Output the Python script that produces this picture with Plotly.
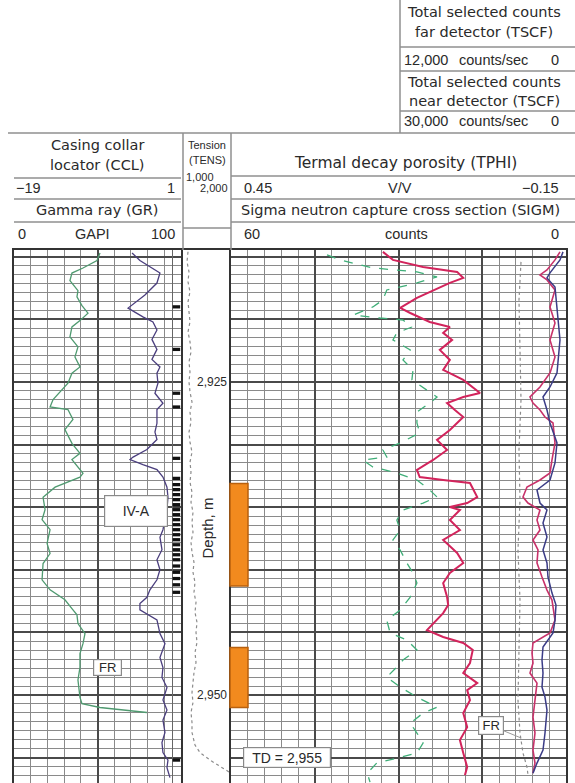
import plotly.graph_objects as go

# ---------------- data ----------------
depth_top, depth_bot = 2914.46, 2957.03

gr_depth = [2914.7, 2915.3, 2915.9, 2916.3, 2916.9, 2917.7, 2918.2, 2918.9, 2919.5, 2920.1,
            2920.6, 2921.4, 2922.2, 2923.0, 2923.8, 2924.3, 2925.1, 2926.4, 2927.0, 2927.2,
            2928.0, 2928.8, 2929.9, 2930.7, 2931.2, 2932.3, 2932.6, 2933.4, 2934.2, 2935.2,
            2936.0, 2936.8, 2937.9, 2938.7, 2939.5, 2940.8, 2941.6, 2942.4, 2943.1, 2943.6,
            2944.3, 2945.1, 2945.9, 2946.7, 2947.8, 2948.8, 2950.2, 2950.7, 2951.0, 2951.4]
gr_gapi = [51.5, 49.7, 41.3, 34.7, 33.5, 38.3, 37.7, 40.7, 44.3, 39.5,
           34.7, 33.5, 38.3, 36.5, 39.5, 34.7, 32.3, 23.4, 21.6, 32.3,
           35.3, 30.5, 34.7, 39.5, 34.7, 41.3, 39.5, 24.6, 17.4, 18.6,
           16.8, 21.6, 19.8, 21.6, 17.4, 16.8, 21.6, 30.5, 34.7, 37.7,
           38.3, 42.5, 41.3, 39.5, 39.5, 38.3, 39.5, 40.7, 51.5, 79.6]

gr2_depth = [2914.7, 2915.3, 2916.3, 2917.1, 2918.05, 2919.1, 2919.8, 2920.2, 2920.85, 2921.6,
             2922.4, 2923.2, 2923.8, 2924.3, 2925.1, 2925.9, 2926.7, 2927.2, 2928.3, 2929.0,
             2929.6, 2930.4, 2931.0, 2931.2, 2931.6, 2932.0, 2932.6, 2933.4, 2934.2, 2935.2,
             2936.0, 2936.8, 2937.4, 2938.4, 2939.2, 2940.0, 2940.8, 2941.6, 2942.2, 2942.7,
             2943.2, 2943.6, 2944.0, 2945.1, 2945.9, 2947.0, 2947.8, 2948.6, 2949.4, 2950.4,
             2951.2, 2952.0, 2953.0, 2953.8, 2954.6, 2955.2, 2955.8, 2956.6]
gr2_gapi = [70.7, 75.4, 87.4, 85.6, 78.4, 68.3, 77.2, 83.2, 85.6, 82.6,
            85.6, 82.6, 87.4, 85.6, 86.2, 84.4, 89.2, 85.6, 85.6, 84.4,
            85.6, 79.6, 71.3, 69.5, 77.2, 85.6, 89.2, 91.6, 92.2, 91.6,
            90.4, 89.2, 87.4, 88.6, 85.6, 87.4, 85.6, 81.4, 79.6, 75.4,
            75.4, 80.2, 85.6, 87.4, 90.4, 87.4, 89.2, 88.6, 91.6, 89.2,
            91.6, 89.2, 90.4, 88.6, 89.2, 92.2, 91.6, 93.4]

ccl_depth = [2919.0, 2922.4, 2925.9, 2927.0, 2931.1, 2932.7, 2933.2, 2933.6, 2934.0, 2934.4,
             2934.8, 2935.2, 2935.6, 2936.0, 2936.4, 2936.8, 2937.2, 2937.6, 2938.0, 2938.4,
             2938.8, 2939.2, 2939.7, 2940.2, 2940.7, 2941.2, 2941.8, 2955.2]
ccl_defl = [0.9] * len(ccl_depth)

tens_depth = [2914.6, 2915.4, 2916.2, 2917.0, 2917.8, 2918.6, 2919.4, 2920.2, 2921.0, 2921.8,
              2922.6, 2923.4, 2924.2, 2925.0, 2925.8, 2926.6, 2927.4, 2928.2, 2929.0, 2929.8,
              2930.6, 2931.4, 2932.2, 2933.0, 2933.8, 2934.6, 2935.4, 2936.2, 2937.0, 2937.8,
              2938.6, 2939.4, 2940.2, 2941.0, 2941.8, 2942.6, 2943.4, 2944.2, 2945.0, 2945.8,
              2946.6, 2947.4, 2948.2, 2949.0, 2949.8, 2950.6, 2951.4, 2952.2, 2953.0, 2954.0,
              2954.6, 2955.2, 2955.8, 2956.2]
tens_lbf = [1140, 1120, 1160, 1140, 1180, 1140, 1160, 1180, 1140, 1180,
            1200, 1160, 1180, 1160, 1180, 1220, 1180, 1200, 1160, 1180,
            1220, 1180, 1200, 1180, 1220, 1200, 1240, 1220, 1240, 1200,
            1220, 1260, 1240, 1280, 1260, 1300, 1280, 1320, 1300, 1320,
            1280, 1300, 1260, 1240, 1220, 1240, 1200, 1220, 1220, 1280,
            1380, 1580, 1820, 1980]

tphi_depth = [2914.85, 2915.25, 2915.89, 2916.21, 2916.61, 2917.09, 2917.65, 2918.45, 2919.01, 2919.65,
              2919.89, 2920.05, 2920.61, 2921.08, 2921.64, 2922.44, 2923.24, 2924.04, 2924.84, 2925.64,
              2926.20, 2926.68, 2927.40, 2928.28, 2929.07, 2929.87, 2930.43, 2930.99, 2931.23, 2931.79,
              2932.27, 2932.83, 2933.63, 2934.19, 2934.67, 2935.23, 2936.03, 2936.83, 2937.62, 2938.42,
              2939.46, 2940.26, 2941.06, 2942.18, 2943.22, 2944.02, 2945.05, 2945.61, 2946.41, 2947.21,
              2947.77, 2948.57, 2949.37, 2950.17, 2950.97, 2951.45, 2952.25, 2953.04, 2953.84, 2954.64,
              2955.44, 2956.24, 2956.96]
tphi_vv = [0.278, 0.255, 0.196, 0.117, 0.081, 0.117, 0.171, 0.178, 0.196, 0.231,
           0.183, 0.142, 0.126, 0.153, 0.160, 0.129, 0.142, 0.124, 0.126, 0.099,
           0.081, 0.094, 0.117, 0.117, 0.112, 0.147, 0.178, 0.171, 0.214, 0.196,
           0.153, 0.117, 0.094, 0.081, 0.106, 0.142, 0.153, 0.147, 0.160, 0.147,
           0.135, 0.124, 0.117, 0.129, 0.147, 0.171, 0.165, 0.135, 0.117, 0.142,
           0.153, 0.171, 0.147, 0.117, 0.081, 0.106, 0.129, 0.117, 0.106, 0.117,
           0.189, 0.206, 0.201]

sigm_depth = [2914.61, 2915.25, 2915.81, 2916.21, 2916.69, 2917.09, 2918.29, 2919.09, 2919.49, 2920.21,
              2920.61, 2921.08, 2921.64, 2922.44, 2923.24, 2924.04, 2924.84, 2925.88, 2926.20, 2926.68,
              2927.24, 2927.80, 2928.84, 2929.63, 2930.43, 2931.23, 2932.03, 2932.59, 2932.83, 2933.07,
              2934.19, 2934.67, 2934.99, 2935.23, 2936.03, 2936.83, 2937.62, 2938.66, 2939.46, 2940.26,
              2941.06, 2942.18, 2942.82, 2943.46, 2944.82, 2945.37, 2945.85, 2946.41, 2947.45, 2948.25,
              2949.05, 2949.61, 2950.41, 2951.45, 2952.57, 2953.60, 2954.64, 2955.76, 2956.40]
sigm_cu = [32.8, 31.0, 25.6, 19.5, 18.4, 20.8, 26.7, 29.7, 27.9, 24.4,
           20.8, 22.0, 20.4, 22.6, 20.8, 22.0, 18.4, 15.4, 18.4, 21.3,
           19.9, 18.4, 20.8, 23.1, 21.3, 23.8, 26.7, 26.2, 22.0, 17.2,
           15.9, 17.7, 20.8, 19.0, 20.8, 19.0, 22.0, 19.5, 18.4, 20.8,
           22.0, 21.3, 21.1, 22.0, 24.9, 22.0, 18.4, 16.7, 17.2, 18.4,
           15.9, 17.7, 17.2, 18.4, 17.7, 19.0, 18.4, 17.7, 18.1]

tscf_depth = [2914.61, 2915.25, 2916.05, 2916.45, 2916.85, 2917.65, 2919.01, 2920.29, 2921.64, 2923.00,
              2924.28, 2925.40, 2926.20, 2926.68, 2927.24, 2927.80, 2928.28, 2929.87, 2931.23, 2932.27,
              2932.83, 2933.39, 2934.19, 2934.67, 2935.23, 2936.03, 2936.83, 2937.62, 2938.42, 2939.46,
              2940.58, 2941.62, 2942.42, 2944.02, 2945.05, 2945.85, 2946.65, 2947.45, 2948.25, 2949.05,
              2950.41, 2951.77, 2953.04, 2954.40, 2955.44, 2956.24]
tscf_cps = [215, 394, 681, 932, 681, 394, 573, 394, 573, 394,
            573, 932, 1290, 1182, 932, 753, 466, 394, 502, 573,
            932, 1397, 1541, 1362, 932, 1039, 932, 1182, 1003, 1039,
            860, 681, 502, 394, 573, 1182, 1218, 1182, 1290, 1039,
            1111, 1182, 1111, 1182, 1111, 1182]

tscn_depth = [2914.61, 2915.25, 2916.29, 2916.69, 2917.41, 2919.01, 2921.64, 2924.28, 2925.40, 2926.20,
              2927.24, 2928.28, 2929.87, 2931.47, 2932.83, 2933.63, 2934.67, 2935.23, 2936.27, 2937.38,
              2938.42, 2939.46, 2940.58, 2941.86, 2942.82, 2944.02, 2945.05, 2946.17, 2947.21, 2948.25,
              2949.37, 2950.17, 2951.21, 2953.04, 2954.40, 2955.44, 2956.24]
tscn_cps = [269, 538, 1434, 1702, 986, 807, 538, 807, 1434, 2060,
            1702, 1434, 807, 986, 1434, 2598, 2329, 1702, 2060, 1702,
            2060, 1702, 1613, 1254, 896, 986, 1165, 2060, 2150, 2060,
            2150, 1881, 1702, 1881, 2060, 2598, 2956]

ref_depth = [2915.41, 2918.45, 2922.44, 2926.44, 2930.43, 2934.43, 2938.42, 2942.42, 2946.41, 2950.41,
             2953.04, 2954.64, 2955.76, 2956.40]
ref_cps = [1612, 1684, 1648, 1612, 1684, 1648, 1720, 1648, 1684, 1720,
           1648, 1541, 1397, 1361]

perf_top = [2933.1, 2946.2]
perf_bot = [2941.3, 2951.0]

depth_label_vals = [2925, 2950]
depth_label_text = ["2,925", "2,950"]
td_depth = 2955

# ---------------- layout helpers ----------------
W, H = 575, 783
FONT = "Liberation Sans, Arial, sans-serif"
HFONT = "DejaVu Sans, sans-serif"
TXT = "#2a2a2a"


def px(x):
    return x / W


def py(y):
    return 1 - y / H


T1 = [px(14), px(181)]
TT = [px(181), px(231)]
T3 = [px(231), px(566)]
YD = [0, py(250)]

fig = go.Figure()

# track 1
fig.add_trace(go.Scatter(x=gr_gapi, y=gr_depth, xaxis="x", yaxis="y", mode="lines",
                         line=dict(color="#4f9a70", width=1.3)))
fig.add_trace(go.Scatter(x=gr2_gapi, y=gr2_depth, xaxis="x", yaxis="y", mode="lines",
                         line=dict(color="#4b3f7e", width=1.3)))
fig.add_trace(go.Bar(x=ccl_defl, y=ccl_depth, base=0, orientation="h", width=0.26,
                     xaxis="x2", yaxis="y", marker=dict(color="#111111", line=dict(width=0))))
# tension
fig.add_trace(go.Scatter(x=tens_lbf, y=tens_depth, xaxis="x3", yaxis="y3", mode="lines",
                         line=dict(color="#8c8c8c", width=1.2, dash="dot")))
# track 3
fig.add_trace(go.Scatter(x=tphi_vv, y=tphi_depth, xaxis="x4", yaxis="y2", mode="lines",
                         line=dict(color="#3fae78", width=1.3, dash="dash")))
fig.add_trace(go.Scatter(x=sigm_cu, y=sigm_depth, xaxis="x5", yaxis="y2", mode="lines",
                         line=dict(color="#d2245c", width=2)))
fig.add_trace(go.Scatter(x=ref_cps, y=ref_depth, xaxis="x6", yaxis="y2", mode="lines",
                         line=dict(color="#8c8c8c", width=1.2, dash="dot")))
fig.add_trace(go.Scatter(x=tscf_cps, y=tscf_depth, xaxis="x6", yaxis="y2", mode="lines",
                         line=dict(color="#c8326a", width=1.6)))
fig.add_trace(go.Scatter(x=tscn_cps, y=tscn_depth, xaxis="x7", yaxis="y2", mode="lines",
                         line=dict(color="#3b3c86", width=1.5)))

MAJ = dict(color="#4a4a4a", width=2)
MIN = dict(color="#8a8a8a", width=1.2)
BORDER = dict(linecolor="#333333", linewidth=2)

base_x = dict(showticklabels=False, ticks="", zeroline=False, fixedrange=True)

yrange = [depth_bot, depth_top]
ygrid = dict(showgrid=True, dtick=5, tick0=2915, gridcolor=MAJ["color"], gridwidth=MAJ["width"],
             minor=dict(showgrid=True, dtick=5 / 7, tick0=2915, gridcolor=MIN["color"],
                        gridwidth=MIN["width"]))

fig.update_layout(
    width=W, height=H, margin=dict(l=0, r=0, t=0, b=0),
    paper_bgcolor="white", plot_bgcolor="white", showlegend=False,
    xaxis=dict(base_x, domain=T1, range=[0, 100], anchor="y", showgrid=True, dtick=50, tick0=0,
               gridcolor=MAJ["color"], gridwidth=MAJ["width"],
               minor=dict(showgrid=True, dtick=10, gridcolor=MIN["color"], gridwidth=MIN["width"]),
               showline=True, mirror=True, **BORDER),
    xaxis2=dict(base_x, range=[-19, 1], overlaying="x", anchor="y", tickvals=[0], showgrid=True,
                gridcolor="#666666", gridwidth=1.3, showline=False),
    xaxis3=dict(base_x, domain=TT, range=[1000, 2000], anchor="y3", showgrid=False,
                showline=True, mirror=True, **BORDER),
    xaxis4=dict(base_x, domain=T3, range=[0.45, -0.15], anchor="y2", showgrid=True, dtick=0.15, tick0=0,
                gridcolor=MAJ["color"], gridwidth=MAJ["width"],
                minor=dict(showgrid=True, dtick=0.03, tick0=0, gridcolor=MIN["color"], gridwidth=MIN["width"]),
                showline=True, mirror=True, **BORDER),
    xaxis5=dict(base_x, range=[60, 0], overlaying="x4", anchor="y2", showgrid=False),
    xaxis6=dict(base_x, range=[12000, 0], overlaying="x4", anchor="y2", showgrid=False),
    xaxis7=dict(base_x, range=[30000, 0], overlaying="x4", anchor="y2", showgrid=False),
    yaxis=dict(base_x, domain=YD, range=yrange, anchor="x", showline=True, mirror=True, **BORDER, **ygrid),
    yaxis2=dict(base_x, domain=YD, range=yrange, anchor="x4", showline=True, mirror=True, **BORDER, **ygrid),
    yaxis3=dict(base_x, domain=YD, range=yrange, anchor="x3", showgrid=False, showline=False),
)

# ---------------- header frame lines ----------------
HL = dict(color="#8f8f8f", width=1.5)
header_lines = [
    (400, 0, 400, 133), (400, 47, 575, 47), (400, 71, 575, 71), (400, 111, 575, 111),
    (8, 133, 575, 133),
    (14, 178, 181, 178), (14, 199, 181, 199), (14, 222, 181, 222),
    (183, 133, 183, 250), (231, 133, 231, 250), (183, 228, 231, 228),
    (231, 176, 575, 176), (231, 199, 575, 199), (231, 222, 575, 222),
]
shapes = []
for x0, y0, x1, y1 in header_lines:
    shapes.append(dict(type="line", xref="paper", yref="paper", x0=px(x0), y0=py(y0),
                       x1=px(x1), y1=py(y1), line=HL, layer="above"))

# perforation intervals
for top, bot in zip(perf_top, perf_bot):
    shapes.append(dict(type="rect", xref="paper", yref="y2", x0=px(230), x1=px(248), y0=top, y1=bot,
                       fillcolor="#f28a1e", line=dict(color="#b8600e", width=1.5), layer="above"))
fig.update_layout(shapes=shapes)

# ---------------- header text ----------------
ann = []


def txt(x, y, s, size=14.5, anchor="center", color=TXT, family=HFONT):
    ann.append(dict(xref="paper", yref="paper", x=px(x), y=py(y), text=s, showarrow=False,
                    xanchor=anchor, yanchor="middle", font=dict(family=family, size=size, color=color)))


def num(x, y, s, anchor="center"):
    txt(x, y, s, size=14.5, anchor=anchor, family=FONT)


# top right box
txt(484, 12, "Total selected counts")
txt(484, 32, "far detector (TSCF)")
num(402, 60, "12,000", anchor="left")
num(494, 60, "counts/sec")
num(561, 60, "0", anchor="right")
txt(484, 82, "Total selected counts")
txt(484, 101, "near detector (TSCF)")
num(402, 121, "30,000", anchor="left")
num(494, 121, "counts/sec")
num(561, 121, "0", anchor="right")

# track 1
txt(97, 145, "Casing collar")
txt(97, 165, "locator (CCL)")
num(14, 188, "\u221219", anchor="left")
num(177, 188, "1", anchor="right")
txt(97, 210, "Gamma ray (GR)")
num(16, 234, "0", anchor="left")
num(92, 234, "GAPI")
num(177, 234, "100", anchor="right")

# tension
txt(207, 145, "Tension", size=11, family=FONT)
txt(207, 160, "(TENS)", size=11, family=FONT)
txt(184, 177, "1,000", size=11, anchor="left", family=FONT)
txt(230, 188, "2,000", size=11, anchor="right", family=FONT)

# track 3
txt(405, 163, "Termal decay porosity (TPHI)", size=15.5)
num(242, 188, "0.45", anchor="left")
num(400, 188, "V/V")
num(561, 188, "\u22120.15", anchor="right")
txt(400, 210, "Sigma neutron capture cross section (SIGM)")
num(242, 234, "60", anchor="left")
num(406, 234, "counts")
num(561, 234, "0", anchor="right")

# depth labels
for v, t in zip(depth_label_vals, depth_label_text):
    ann.append(dict(xref="paper", yref="y3", x=px(212), y=v, text=t, showarrow=False,
                    xanchor="center", yanchor="middle", font=dict(family=FONT, size=12, color=TXT)))
ann.append(dict(xref="paper", yref="y3", x=px(207), y=2936.7, text="Depth, m", textangle=-90,
                showarrow=False, xanchor="center", yanchor="middle",
                font=dict(family=FONT, size=15, color=TXT)))

BOX = dict(bgcolor="white", bordercolor="#8a8a8a", borderwidth=1.2, xanchor="center", yanchor="middle")
ann.append(dict(xref="paper", yref="y", x=px(136), y=2935.3, text="IV-A", showarrow=False,
                width=58, height=26, borderpad=2, font=dict(family=FONT, size=14, color=TXT), **BOX))
ann.append(dict(xref="paper", yref="y", x=px(108), y=2947.8, text="FR", showarrow=False,
                width=25, height=13, borderpad=1, font=dict(family=FONT, size=13, color=TXT), **BOX))
ann.append(dict(xref="paper", yref="y2", x=px(520), y=2953.4, text="FR", showarrow=True,
                arrowhead=0, arrowwidth=1, arrowcolor="#9a9a9a", ax=-29, ay=-12,
                width=22, height=15, borderpad=1, font=dict(family=FONT, size=13, color=TXT), **BOX))
ann.append(dict(xref="paper", yref="y2", x=px(287), y=td_depth, text="TD = " + f"{td_depth:,}",
                showarrow=False, width=84, height=17, borderpad=1,
                font=dict(family=FONT, size=14, color=TXT), **BOX))

fig.update_layout(annotations=ann)

fig.write_html("out.html")
